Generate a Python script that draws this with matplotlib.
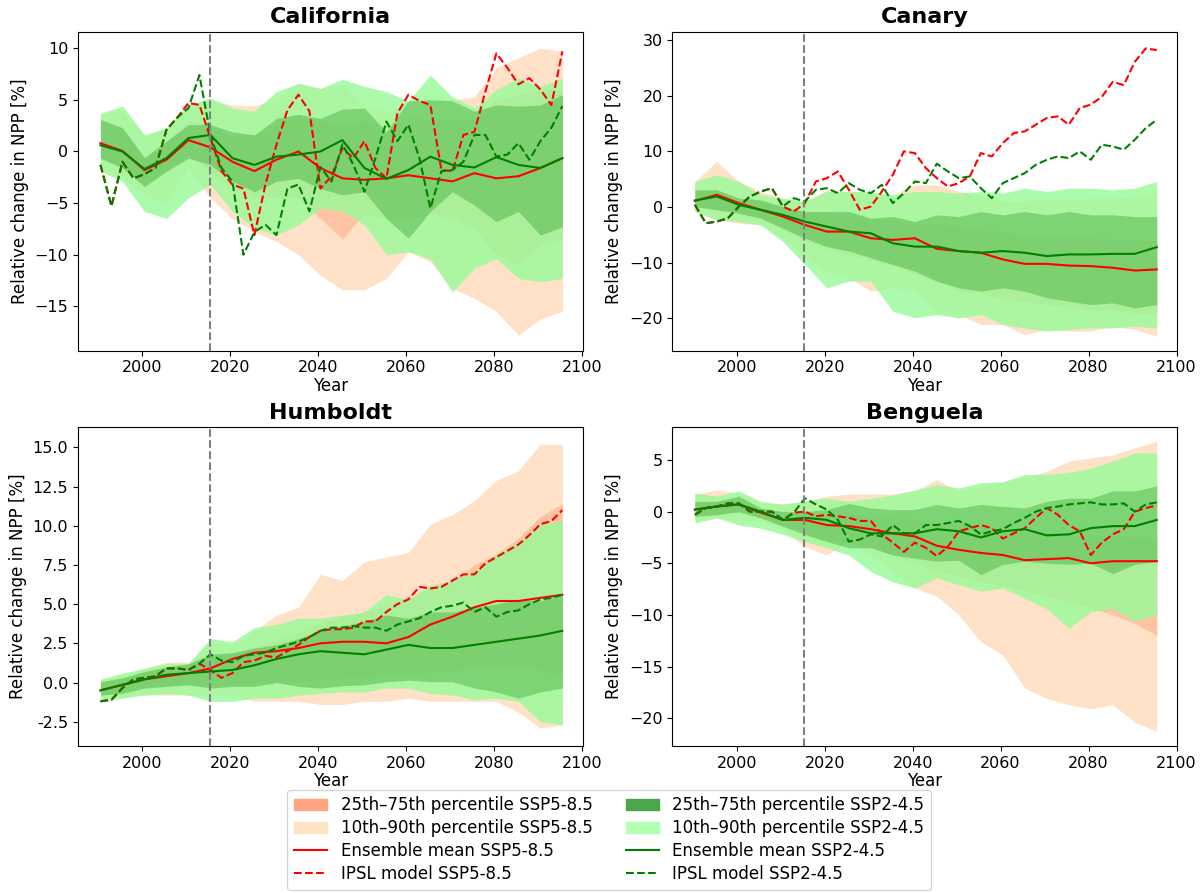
import numpy as np
import matplotlib
matplotlib.use("Agg")
import matplotlib.pyplot as plt
from matplotlib.patches import Patch
from matplotlib.lines import Line2D

# 5-year sampling for ensemble bands / means, 2.5-year sampling for IPSL runs
YEARS = np.arange(1990.5, 2096, 5)
IPSL_YEARS = np.arange(1990.5, 2096, 2.5)
HIST_END = 2015.4

# ---------------- California ----------------
CAL_P10_585 = [-1.9, -2.5, -4.2, -5.0, -1.6, -4.5, -6.5, -7.8, -8.7, -10.0, -12.0,
               -13.4, -13.4, -12.3, -9.7, -10.7, -13.3, -14.2, -15.5, -17.8, -16.2, -15.5]
CAL_P90_585 = [3.6, 4.0, 1.5, 2.2, 4.7, 4.9, 4.5, 4.4, 5.2, 6.6, 6.1,
               6.5, 4.5, 3.9, 4.7, 5.2, 5.0, 5.3, 8.1, 9.1, 10.0, 9.7]
CAL_P25_585 = [-0.7, -1.5, -3.3, -2.0, -0.3, -2.0, -3.5, -4.5, -4.5, -4.5, -6.5,
               -8.5, -6.0, -6.5, -6.5, -6.0, -6.5, -7.5, -10.0, -11.0, -9.0, -8.5]
CAL_P75_585 = [3.0, 2.2, -0.5, 1.0, 3.0, 2.5, 1.5, 1.5, 2.5, 3.5, 3.0,
               2.5, 3.0, 2.0, 3.5, 3.0, 3.0, 3.0, 5.0, 5.5, 6.0, 6.0]
CAL_P10_245 = [-1.9, -2.9, -5.8, -6.5, -4.5, -3.2, -5.8, -7.4, -8.1, -7.1, -5.5,
               -5.8, -7.1, -10.0, -9.7, -10.4, -13.6, -11.3, -10.4, -12.3, -12.6, -12.3]
CAL_P90_245 = [3.7, 4.4, 1.6, 2.3, 4.5, 5.2, 4.2, 3.9, 5.8, 6.6, 6.1,
               7.0, 6.3, 5.8, 4.9, 7.4, 5.3, 4.2, 6.0, 7.1, 6.3, 7.1]
CAL_P25_245 = [-0.65, -1.6, -3.4, -1.9, -0.65, -1.3, -2.9, -3.9, -2.9, -2.6, -3.6,
               -4.2, -3.9, -6.5, -8.4, -5.8, -3.9, -5.2, -6.8, -5.8, -8.1, -7.3]
CAL_P75_245 = [3.1, 2.3, -0.6, 1.0, 2.6, 2.6, 1.9, 1.6, 3.2, 3.6, 3.2,
               4.1, 4.2, 1.9, 4.9, 5.0, 4.9, 3.9, 4.5, 4.4, 4.5, 5.5]
CAL_MEAN_585 = [0.8, 0.05, -1.8, -0.8, 1.1, 0.4, -1.0, -1.9, -0.8, 0.0, -1.6,
                -2.6, -2.75, -2.6, -2.3, -2.6, -2.9, -2.1, -2.6, -2.4, -1.6, -0.65]
CAL_MEAN_245 = [0.6, 0.0, -1.7, -0.65, 1.3, 1.6, -0.65, -1.3, -0.5, -0.3, 0.0,
                1.1, -1.6, -2.65, -1.8, -0.5, -1.3, -1.55, -0.55, -1.3, -1.6, -0.65]
CAL_IPSL_585 = [-1.3, -5.3, -1.0, -2.6, -2.2, -1.6, 2.1, 3.3, 4.7, 4.5, 1.3,
                -1.9, -3.2, -3.6, -8.1, -3.2, 0.65, 4.0, 5.5, 3.9, -3.6, -2.4,
                0.3, -0.65, 1.0, -1.6, -2.6, 3.7, 5.5, 4.9, 4.5, -1.8, -1.9,
                1.6, 1.9, 5.8, 9.5, 8.1, 6.5, 7.1, 6.0, 4.5, 9.7]
CAL_IPSL_245 = [-1.3, -5.3, -1.0, -2.6, -2.2, -1.6, 2.1, 3.3, 4.2, 7.4, 1.6,
                -1.6, -2.9, -10.0, -7.8, -7.1, -8.1, -3.6, -3.2, -5.8, -1.5, -2.9,
                0.7, -1.3, -3.9, -0.65, 2.9, 1.0, 2.6, -0.65, -5.5, -1.9, -1.8,
                -1.0, 1.6, 1.6, -0.5, -0.3, 0.8, -0.8, 1.0, 2.3, 4.4]

# ---------------- Canary ----------------
CAN_P10_585 = [-0.8, -2.3, -2.9, -3.2, -5.6, -9.1, -11.5, -12.7, -15.1, -14.5, -15.1,
               -18.7, -19.3, -21.1, -21.1, -22.9, -22.0, -22.3, -22.3, -21.4, -22.0, -23.2]
CAN_P90_585 = [4.6, 8.2, 4.6, 2.8, 1.6, 1.0, 3.1, 2.8, 2.5, 2.2, 4.0,
               4.0, 2.8, 2.2, 1.0, 1.0, 1.6, 1.3, 1.6, 1.6, 1.9, 2.8]
CAN_P25_585 = [0.0, -0.5, -1.3, -2.2, -4.0, -6.0, -7.5, -8.5, -9.5, -10.5, -12.0,
               -13.5, -15.0, -15.5, -16.5, -17.0, -17.5, -18.0, -18.5, -18.5, -19.0, -19.0]
CAN_P75_585 = [3.0, 3.2, 1.5, 1.0, 0.0, -1.0, -1.0, -1.5, -2.0, -2.5, -3.0,
               -3.0, -3.5, -4.0, -4.5, -5.0, -5.0, -5.5, -5.5, -6.0, -6.0, -6.0]
CAN_P10_245 = [-0.8, -2.3, -2.6, -3.2, -6.2, -10.3, -14.5, -13.3, -13.3, -18.7, -19.9,
               -19.3, -19.9, -19.3, -21.1, -21.7, -22.3, -22.0, -21.7, -21.7, -21.4, -21.7]
CAN_P90_245 = [4.6, 5.8, 4.6, 2.2, 1.6, 1.0, 2.8, 2.8, 2.8, 2.2, 2.8,
               2.8, 2.5, 2.8, 2.5, 3.4, 2.8, 3.4, 3.4, 3.1, 3.4, 4.6]
CAN_P25_245 = [0.1, -0.5, -1.1, -2.0, -3.8, -5.6, -7.1, -7.9, -9.1, -10.3, -11.5,
               -13.3, -14.5, -15.1, -14.5, -15.1, -16.3, -16.9, -17.5, -17.2, -18.1, -17.5]
CAN_P75_245 = [3.1, 3.1, 1.6, 1.3, 0.1, -0.8, -0.8, -0.8, -2.0, -1.7, -2.6,
               -1.4, -1.7, -0.8, -1.4, -0.8, -1.4, -0.8, -1.4, -1.4, -1.7, -1.7]
CAN_MEAN_585 = [1.1, 2.2, 0.7, -0.5, -1.7, -3.2, -4.4, -4.4, -5.6, -5.9, -5.6,
                -7.5, -7.9, -8.2, -9.4, -10.2, -10.2, -10.5, -10.6, -10.9, -11.4, -11.2]
CAN_MEAN_245 = [1.2, 1.9, 0.4, -0.5, -1.4, -2.6, -3.5, -4.4, -4.7, -6.5, -7.1,
                -7.1, -7.9, -8.2, -7.9, -8.2, -8.8, -8.5, -8.5, -8.4, -8.4, -7.2]
CAN_IPSL_585 = [0.4, -2.9, -2.6, -2.0, 0.1, 1.9, 2.8, 3.4, 0.1, -0.8, 0.7,
                4.6, 5.2, 6.4, 3.1, -0.5, 0.1, 2.8, 5.8, 10.0, 9.7, 7.0,
                5.2, 3.7, 4.3, 5.5, 9.7, 9.1, 11.5, 13.3, 13.6, 14.8, 16.0,
                16.3, 14.8, 17.8, 18.4, 19.8, 22.5, 21.9, 26.1, 28.5, 28.2]
CAN_IPSL_245 = [0.4, -2.9, -2.6, -2.0, 0.1, 1.9, 2.8, 3.4, 0.1, 1.6, 1.0,
                3.1, 3.4, 2.5, 4.3, 3.1, 2.5, 4.0, 0.7, 2.5, 4.6, 4.3,
                7.8, 6.4, 5.2, 5.5, 3.4, 1.6, 4.3, 5.2, 6.1, 7.6, 8.5,
                9.1, 8.8, 10.0, 8.5, 11.2, 10.9, 10.3, 12.1, 14.2, 15.7]

# ---------------- Humboldt ----------------
HUM_P10_585 = [-1.0, -0.9, -0.8, -0.8, -0.8, -0.8, -0.8, -1.2, -1.2, -1.2, -1.4,
               -1.4, -1.2, -1.2, -1.0, -1.2, -1.2, -1.2, -1.2, -1.9, -2.9, -2.7]
HUM_P90_585 = [0.2, 0.5, 0.9, 1.3, 1.3, 2.6, 2.4, 3.3, 4.3, 4.8, 6.9,
               6.5, 7.7, 8.0, 8.3, 10.1, 10.7, 11.6, 12.9, 13.5, 15.2, 15.2]
HUM_P25_585 = [-0.8, -0.6, -0.3, -0.2, -0.1, -0.2, -0.1, 0.0, 0.0, 0.1, 0.2,
               0.3, 0.3, 0.5, 0.5, 0.7, 0.8, 1.0, 1.0, 1.0, 0.8, 0.5]
HUM_P75_585 = [0.0, 0.3, 0.7, 1.0, 1.1, 1.7, 1.8, 2.3, 2.7, 3.2, 3.8,
               4.2, 4.5, 5.0, 5.3, 6.2, 6.5, 7.5, 8.2, 9.2, 10.6, 11.4]
HUM_P10_245 = [-1.2, -1.0, -0.8, -0.7, -0.8, -1.2, -1.2, -1.0, -1.0, -0.8, -0.7,
               -0.6, -0.6, -0.35, -0.35, -0.7, -0.8, -1.1, -1.0, -1.2, -2.5, -2.7]
HUM_P90_245 = [0.2, 0.6, 0.9, 1.2, 1.2, 2.8, 2.6, 3.5, 3.7, 4.1, 4.1,
               4.3, 4.5, 5.6, 5.3, 6.2, 6.5, 7.1, 8.2, 9.0, 10.1, 10.3]
HUM_P25_245 = [-0.8, -0.7, -0.35, -0.25, -0.15, -0.35, -0.25, -0.25, 0.0, -0.25, -0.35,
               -0.2, -0.15, 0.05, 0.15, 0.05, 0.05, -0.35, -0.6, -1.0, -0.6, -0.35]
HUM_P75_245 = [0.05, 0.3, 0.7, 1.0, 1.2, 1.8, 1.9, 2.2, 2.4, 2.8, 3.3,
               3.6, 3.9, 4.3, 4.1, 4.5, 4.5, 4.8, 5.0, 5.3, 5.2, 5.6]
HUM_MEAN_585 = [-0.5, -0.15, 0.2, 0.4, 0.6, 0.9, 1.5, 1.9, 2.0, 2.2, 2.5,
                2.6, 2.6, 2.5, 2.9, 3.7, 4.2, 4.8, 5.2, 5.2, 5.4, 5.6]
HUM_MEAN_245 = [-0.5, -0.15, 0.2, 0.5, 0.6, 0.7, 0.8, 1.1, 1.5, 1.8, 2.0,
                1.9, 1.8, 2.1, 2.4, 2.2, 2.2, 2.4, 2.6, 2.8, 3.0, 3.3]
HUM_IPSL_585 = [-1.2, -1.1, -0.35, 0.2, 0.3, 0.4, 0.9, 0.9, 0.8, 1.2, 0.8,
                0.3, 0.6, 1.3, 1.4, 1.7, 1.6, 2.0, 2.4, 2.9, 3.3, 3.4,
                3.4, 3.5, 3.9, 3.9, 4.5, 5.0, 5.3, 6.1, 6.0, 6.1, 6.5,
                6.9, 6.9, 7.6, 8.0, 8.4, 8.8, 9.4, 10.1, 10.3, 11.0]
HUM_IPSL_245 = [-1.2, -1.1, -0.35, 0.2, 0.3, 0.4, 0.9, 0.9, 0.8, 1.2, 1.8,
                1.4, 1.3, 1.7, 1.8, 1.9, 2.2, 2.4, 2.6, 2.9, 3.3, 3.5,
                3.5, 3.6, 3.5, 3.5, 3.3, 3.7, 3.9, 4.1, 4.5, 4.8, 4.9,
                5.1, 4.5, 4.8, 4.2, 4.5, 4.6, 5.0, 5.3, 5.4, 5.6]

# ---------------- Benguela ----------------
BEN_P10_585 = [-0.9, -0.6, -0.9, -0.9, -1.7, -3.4, -4.2, -2.9, -4.2, -5.8, -7.4,
               -8.2, -10.0, -12.6, -13.9, -17.1, -18.1, -18.7, -19.1, -18.7, -20.4, -21.3]
BEN_P90_585 = [1.7, 2.1, 1.8, 0.8, 0.8, 1.0, 1.5, 1.7, 1.7, 1.7, 2.0,
               3.1, 2.0, 2.5, 2.9, 3.3, 3.9, 4.9, 5.2, 5.5, 6.2, 6.8]
BEN_P25_585 = [-0.4, -0.2, -0.1, -0.7, -1.5, -2.3, -2.8, -3.0, -3.5, -4.2, -5.0,
               -5.8, -6.2, -6.8, -7.2, -7.6, -8.2, -8.8, -9.3, -10.0, -10.8, -12.0]
BEN_P75_585 = [0.9, 1.0, 1.3, 0.3, 0.0, -0.2, -0.3, -0.2, -0.5, -0.6, -0.8,
               -1.0, -1.2, -1.5, -1.7, -2.0, -2.0, -2.2, -2.3, -2.4, -2.5, -2.5]
BEN_P10_245 = [-1.1, -0.6, -1.3, -1.6, -2.2, -2.9, -3.5, -4.2, -5.8, -6.8, -7.4,
               -6.4, -7.1, -7.7, -7.4, -8.4, -9.4, -11.3, -9.7, -9.4, -10.6, -10.0]
BEN_P90_245 = [1.8, 1.5, 2.0, 1.0, 0.7, 1.0, 1.3, 1.0, 1.3, 1.6, 2.1,
               2.6, 2.3, 2.8, 2.9, 3.6, 3.6, 3.8, 4.2, 4.9, 5.7, 5.7]
BEN_P25_245 = [-0.45, -0.3, 0.0, -0.6, -1.4, -2.2, -2.9, -3.5, -3.5, -4.2, -4.5,
               -4.8, -4.7, -6.1, -5.1, -4.8, -5.0, -5.1, -5.0, -6.0, -5.1, -4.8]
BEN_P75_245 = [1.0, 1.0, 1.5, 0.35, 0.0, 0.0, 0.2, 0.8, 0.35, 0.2, 0.2,
               0.7, 0.35, 0.7, 0.5, 0.35, 1.0, 1.3, 1.3, 2.0, 2.0, 2.5]
BEN_MEAN_585 = [0.2, 0.5, 0.7, -0.1, -0.8, -0.8, -1.3, -1.4, -1.7, -2.1, -2.4,
                -3.3, -3.7, -4.0, -4.2, -4.7, -4.6, -4.5, -5.0, -4.8, -4.8, -4.8]
BEN_MEAN_245 = [0.2, 0.5, 0.7, 0.0, -0.8, -0.6, -0.8, -1.6, -2.1, -2.1, -2.1,
                -1.7, -1.9, -2.5, -1.9, -1.7, -2.3, -2.2, -1.6, -1.4, -1.4, -0.8]
BEN_IPSL_585 = [-0.3, 0.35, 0.5, 0.8, 0.8, 0.0, 0.0, 0.0, -0.8, -0.1, 0.0,
                -0.45, -0.3, -0.45, -0.6, -0.9, -0.9, -2.2, -3.0, -3.9, -3.0, -3.5,
                -4.3, -3.4, -1.9, -1.6, -1.3, -1.6, -2.6, -2.1, -1.6, -0.6, 0.35,
                -0.3, -1.3, -1.9, -4.2, -3.0, -2.2, -1.7, 0.0, 0.35, 0.6]
BEN_IPSL_245 = [-0.3, 0.35, 0.5, 0.8, 0.8, 0.0, 0.0, 0.0, -0.8, -0.1, 1.3,
                0.7, 0.2, -0.8, -2.9, -2.7, -2.2, -2.4, -1.3, -2.1, -2.1, -1.3,
                -1.3, -1.1, -0.9, -1.4, -2.2, -1.9, -1.7, -1.1, -0.6, 0.0, 0.35,
                0.5, 0.7, 0.8, 0.9, 0.7, 0.7, 0.8, 0.0, 0.7, 0.9]

REGIONS = ["California", "Canary", "Humboldt", "Benguela"]
YLIMS = [(-19.3, 11.6), (-25.8, 31.5), (-4.05, 16.3), (-22.7, 8.2)]

PEACH = "#ffdab9"
SALMON = "#ffa07a"
PALEGREEN = "#98fb98"


def panel_data():
    return {
        "California": (CAL_P10_585, CAL_P90_585, CAL_P25_585, CAL_P75_585,
                       CAL_P10_245, CAL_P90_245, CAL_P25_245, CAL_P75_245,
                       CAL_MEAN_585, CAL_MEAN_245, CAL_IPSL_585, CAL_IPSL_245),
        "Canary": (CAN_P10_585, CAN_P90_585, CAN_P25_585, CAN_P75_585,
                   CAN_P10_245, CAN_P90_245, CAN_P25_245, CAN_P75_245,
                   CAN_MEAN_585, CAN_MEAN_245, CAN_IPSL_585, CAN_IPSL_245),
        "Humboldt": (HUM_P10_585, HUM_P90_585, HUM_P25_585, HUM_P75_585,
                     HUM_P10_245, HUM_P90_245, HUM_P25_245, HUM_P75_245,
                     HUM_MEAN_585, HUM_MEAN_245, HUM_IPSL_585, HUM_IPSL_245),
        "Benguela": (BEN_P10_585, BEN_P90_585, BEN_P25_585, BEN_P75_585,
                     BEN_P10_245, BEN_P90_245, BEN_P25_245, BEN_P75_245,
                     BEN_MEAN_585, BEN_MEAN_245, BEN_IPSL_585, BEN_IPSL_245),
    }


def draw_panel(ax, name, series, ylim):
    (p10_585, p90_585, p25_585, p75_585,
     p10_245, p90_245, p25_245, p75_245,
     mean_585, mean_245, ipsl_585, ipsl_245) = series

    ax.fill_between(YEARS, p10_585, p90_585, color=PEACH, alpha=0.8, lw=0)
    ax.fill_between(YEARS, p25_585, p75_585, color=SALMON, alpha=0.45, lw=0)
    ax.fill_between(YEARS, p10_245, p90_245, color=PALEGREEN, alpha=0.8, lw=0)
    ax.fill_between(YEARS, p25_245, p75_245, color="green", alpha=0.28, lw=0)

    ax.plot(YEARS, mean_585, color="red", lw=1.5)
    ax.plot(IPSL_YEARS, ipsl_585, color="red", lw=1.5, ls="--")
    ax.plot(YEARS, mean_245, color="green", lw=1.5)
    ax.plot(IPSL_YEARS, ipsl_245, color="green", lw=1.5, ls="--")

    ax.axvline(HIST_END, color="gray", ls="--", lw=1.5)
    ax.set_xlim(1985.4, 2100.1)
    ax.set_ylim(*ylim)
    ax.set_title(name, fontsize=16, fontweight="bold")
    ax.set_xlabel("Year", fontsize=12, labelpad=1)
    ax.set_ylabel("Relative change in NPP [%]", fontsize=12)
    ax.tick_params(labelsize=11.5)


fig, axes = plt.subplots(2, 2, figsize=(12.04, 8.93))
fig.subplots_adjust(left=0.0648, right=0.9776, top=0.9645, bottom=0.1646,
                    wspace=0.178, hspace=0.239)

data = panel_data()
for ax, name, ylim in zip(axes.flat, REGIONS, YLIMS):
    draw_panel(ax, name, data[name], ylim)
axes[1, 0].yaxis.set_major_formatter(matplotlib.ticker.FormatStrFormatter("%.1f"))

handles = [
    Patch(facecolor="#ffa57f", edgecolor="#ffa57f"),
    Patch(facecolor="#ffe4c4", edgecolor="#ffe4c4"),
    Line2D([], [], color="red", lw=1.5),
    Line2D([], [], color="red", lw=1.5, ls="--"),
    Patch(facecolor="#4ca64c", edgecolor="#4ca64c"),
    Patch(facecolor="#b3ffb3", edgecolor="#b3ffb3"),
    Line2D([], [], color="green", lw=1.5),
    Line2D([], [], color="green", lw=1.5, ls="--"),
]
labels = [
    "25th\u201375th percentile SSP5-8.5",
    "10th\u201390th percentile SSP5-8.5",
    "Ensemble mean SSP5-8.5",
    "IPSL model SSP5-8.5",
    "25th\u201375th percentile SSP2-4.5",
    "10th\u201390th percentile SSP2-4.5",
    "Ensemble mean SSP2-4.5",
    "IPSL model SSP2-4.5",
]
fig.legend(handles, labels, loc="lower center", bbox_to_anchor=(0.506, 0.0034),
           ncol=2, fontsize=12, labelspacing=0.3, borderaxespad=0.0)

fig.savefig("out.png", dpi=100)
